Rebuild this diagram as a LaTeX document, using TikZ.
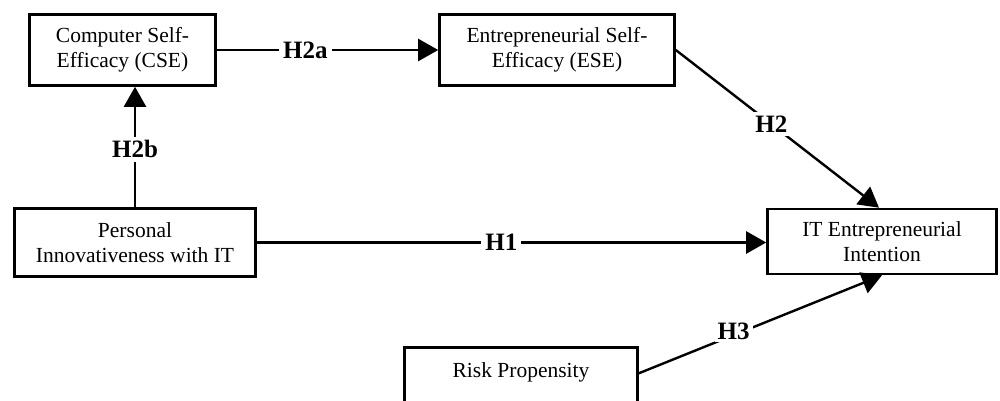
\documentclass[tikz,border=0pt]{standalone}
\usepackage{fontspec}
\setmainfont{Liberation Serif}
\usetikzlibrary{arrows.meta,calc}
\begin{document}
\begin{tikzpicture}[x=1pt,y=-1pt,
  box/.style={draw, line width=2.6pt, rectangle, align=center, inner sep=0pt,
    font=\fontsize{21.5}{25}\selectfont},
  conn/.style={line width=2.4pt, -{Triangle[length=20pt,width=22pt]}},
  hlab/.style={fill=white, font=\fontsize{25}{28}\selectfont\bfseries, inner sep=4pt}]
\useasboundingbox (0,0) rectangle (1000,401);
\node[box, minimum width=186pt, minimum height=71pt] (cse) at (122.5,50) {Computer Self-\\Efficacy (CSE)};
\node[box, minimum width=235pt, minimum height=71pt] (ese) at (557,50) {Entrepreneurial Self-\\Efficacy (ESE)};
\node[box, minimum width=241pt, minimum height=68pt] (pi) at (135,242.5) {Personal\\Innovativeness with IT};
\node[box, minimum width=229pt, minimum height=65pt] (it) at (882,241.5) {IT Entrepreneurial\\Intention};
\node[box, minimum width=233pt, text height=29.7pt, text depth=45pt, anchor=north] (risk) at (521,346.3) {Risk Propensity};
\coordinate (riskout) at ($(risk.north east)+(0,27)$);
\draw[conn] (cse.east) -- node[hlab, pos=0.4] {H2a} (ese.west);
\draw[conn] (pi.north) -- node[hlab, pos=0.48] {H2b} (pi.north |- cse.south);
\draw[conn] (pi.east) -- node[hlab, pos=0.48] {H1} (pi.east -| it.west);
\draw[conn] (ese.east) -- node[hlab, pos=0.47] {H2} ([xshift=-3pt]it.north);
\draw[conn] (riskout) -- node[hlab, pos=0.39, yshift=4pt, inner sep=3pt] {H3} (it.south);
\end{tikzpicture}
\end{document}
